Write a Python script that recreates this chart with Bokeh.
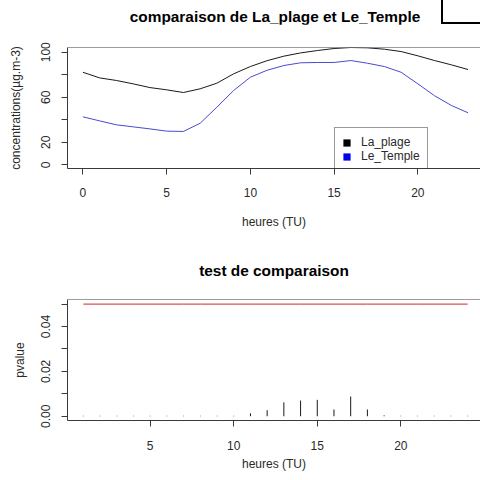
import numpy as np
from bokeh.plotting import figure
from bokeh.layouts import column, row
from bokeh.models import (Range1d, FixedTicker, Legend, LegendItem, Span, Div)
from bokeh.embed import file_html
from bokeh.resources import INLINE

# ---------------- data ----------------
hours = list(range(0, 24))
la_plage = [82.2, 77.2, 74.9, 71.9, 68.6, 66.6, 64.2, 67.5, 72.5, 80.8, 87.3, 92.5,
            96.5, 99.4, 101.5, 103.3, 104.2, 103.9, 102.7, 100.6, 96.8, 92.6, 88.8, 84.6]
le_temple = [42.6, 39.0, 35.5, 33.7, 31.9, 29.9, 29.6, 36.9, 51.2, 66.0, 77.8, 84.0,
             88.2, 90.6, 90.9, 90.9, 92.6, 90.2, 87.3, 82.2, 71.9, 61.3, 52.7, 46.2]
series_names = ["La_plage", "Le_Temple"]

test_hours = list(range(1, 25))
pvalues = [0.0002, 0.0002, 0.0002, 0.0002, 0.0002, 0.0002, 0.0002, 0.0002, 0.0002, 0.0002,
           0.0013, 0.0027, 0.0062, 0.0070, 0.0073, 0.0030, 0.0088, 0.0030, 0.0004, 0.0002,
           0.0002, 0.0002, 0.0002, 0.0002]
alpha = 0.05

title_top = "comparaison de La_plage et Le_Temple"
title_bottom = "test de comparaison"
top_yticks = [0, 20, 40, 60, 80, 100]
top_ylabels = {0: "0", 20: "20", 40: "", 60: "60", 80: "", 100: "100"}
top_xticks = [0, 5, 10, 15, 20]
bot_yticks = [0.0, 0.01, 0.02, 0.03, 0.04, 0.05]
bot_ylabels = {0.0: "0.00", 0.01: "", 0.02: "0.02", 0.03: "", 0.04: "0.04", 0.05: ""}
bot_xticks = [5, 10, 15, 20]

FONT = "Liberation Sans"
TXT = "#2a2a2a"
FRAME = "#3a3a3a"


def title_div(text, width, height, pad_left, pad_top):
    return Div(text=text, width=width, height=height,
               styles={"font-family": FONT, "font-size": "15.4px", "font-weight": "bold",
                       "color": "black", "text-align": "center", "white-space": "nowrap",
                       "line-height": "16px", "padding-left": f"{pad_left}px",
                       "padding-top": f"{pad_top}px", "box-sizing": "border-box",
                       "margin": "0"})


def style(p, xticks, yticks, ylabels, xtick_standoff, xlab_standoff, ylab_standoff):
    p.outline_line_color = None
    p.grid.visible = False
    for ax in (p.xaxis[0], p.yaxis[0]):
        ax.axis_line_color = FRAME
        ax.major_tick_line_color = FRAME
        ax.major_tick_out = 6
        ax.major_tick_in = 0
        ax.minor_tick_line_color = None
        ax.major_label_text_font = FONT
        ax.major_label_text_font_size = "12px"
        ax.major_label_text_color = TXT
        ax.axis_label_text_font = FONT
        ax.axis_label_text_font_size = "12px"
        ax.axis_label_text_font_style = "normal"
        ax.axis_label_text_color = TXT
    p.xaxis[0].ticker = FixedTicker(ticks=xticks)
    p.yaxis[0].ticker = FixedTicker(ticks=yticks)
    p.yaxis[0].major_label_overrides = ylabels
    p.yaxis[0].major_label_orientation = "vertical"
    p.xaxis[0].major_label_standoff = xtick_standoff
    p.yaxis[0].major_label_standoff = 11
    p.xaxis[0].axis_label_standoff = xlab_standoff
    p.yaxis[0].axis_label_standoff = ylab_standoff
    # top edge of the box
    p.add_layout(Span(location=p.y_range.end, dimension="width",
                      line_color=FRAME, line_width=1))


# ---------------- header row: title + partial box in the corner ----------------
head_title = title_div(title_top, 441, 24, 109, 9)
corner_box = Div(text="", width=39, height=24,
                 styles={"border-left": "2px solid black", "border-bottom": "2px solid black",
                         "box-sizing": "border-box", "margin": "0"})

# ---------------- top figure ----------------
p1 = figure(width=480, height=216, output_backend="svg", toolbar_location=None,
            x_range=Range1d(-0.92, 23.74), y_range=Range1d(-3.3, 104.2),
            min_border_left=67, min_border_right=0, min_border_top=23, min_border_bottom=72,
            x_axis_label="heures (TU)", y_axis_label="concentrations(µg.m-3)")
style(p1, top_xticks, top_yticks, top_ylabels, 13, 15, 16)

p1.line(hours, la_plage, line_color="#1a1a1a", line_width=1)
p1.line(hours, le_temple, line_color="#4a4ad0", line_width=1)

# legend swatches: placeholder renderers that draw nothing in the plot
nan1 = np.full(1, np.nan)
sw1 = p1.quad(left=nan1, right=nan1, top=nan1, bottom=nan1, fill_color="black", line_color=None)
sw2 = p1.quad(left=nan1, right=nan1, top=nan1, bottom=nan1, fill_color="#0000ee", line_color=None)
leg = Legend(items=[LegendItem(label=series_names[0], renderers=[sw1]),
                    LegendItem(label=series_names[1], renderers=[sw2])],
             location=(267, -3), orientation="vertical",
             glyph_width=9, glyph_height=9, label_height=11, label_standoff=10,
             spacing=-2, padding=7, margin=0,
             label_text_font=FONT, label_text_font_size="12px", label_text_color=TXT,
             border_line_color="#333333", border_line_width=1,
             background_fill_color="white", background_fill_alpha=1)
p1.add_layout(leg, "center")

# ---------------- bottom title + figure ----------------
mid_title = title_div(title_bottom, 480, 40, 68, 23)

p2 = figure(width=480, height=200, output_backend="svg", toolbar_location=None,
            x_range=Range1d(0.05, 24.77), y_range=Range1d(-0.0019, 0.05205),
            min_border_left=67, min_border_right=0, min_border_top=19, min_border_bottom=60,
            x_axis_label="heures (TU)", y_axis_label="pvalue")
style(p2, bot_xticks, bot_yticks, bot_ylabels, 14, 4, 12)

p2.segment(x0=test_hours, y0=[0] * len(test_hours), x1=test_hours, y1=pvalues,
           line_color="#1a1a1a", line_width=1)
p2.line(test_hours, [alpha] * len(test_hours), line_color="#d42020", line_width=1)

layout = column(row(head_title, corner_box, spacing=0), p1, mid_title, p2, spacing=0)
open("out.html", "w").write(file_html(layout, INLINE))
